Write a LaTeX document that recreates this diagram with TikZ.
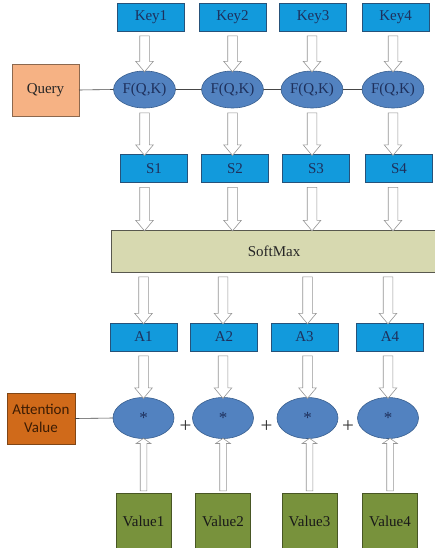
\documentclass[tikz,border=0pt]{standalone}
\usepackage{fontspec}
\setmainfont{Liberation Serif}
\newfontfamily\labelsans{Carlito}
\usetikzlibrary{shapes.geometric,shapes.arrows,calc}

\definecolor{keyblue}{RGB}{18,154,220}
\definecolor{keyedge}{RGB}{38,82,122}
\definecolor{keytext}{RGB}{30,48,92}
\definecolor{ellblue}{RGB}{82,130,192}
\definecolor{elledge}{RGB}{56,94,142}
\definecolor{softfill}{RGB}{215,217,176}
\definecolor{softedge}{RGB}{88,88,78}
\definecolor{valfill}{RGB}{120,146,60}
\definecolor{valedge}{RGB}{72,86,36}
\definecolor{queryfill}{RGB}{246,178,132}
\definecolor{queryedge}{RGB}{140,104,78}
\definecolor{attfill}{RGB}{208,106,26}
\definecolor{attedge}{RGB}{128,70,22}
\definecolor{atttext}{RGB}{60,28,4}
\definecolor{arrowedge}{RGB}{150,150,150}
\definecolor{linkgray}{RGB}{70,70,70}

\newcommand{\labelsize}{\fontsize{15}{17}\selectfont}
\tikzstyle{box}=[draw, inner sep=0, outer sep=0, line width=0.6pt, font=\labelsize]
\tikzstyle{keybox}=[box, fill=keyblue, draw=keyedge, text=keytext, minimum width=67pt, minimum height=28pt]
\tikzstyle{softbox}=[box, fill=softfill, draw=softedge, text=black!85, minimum width=326pt, minimum height=42pt]
\tikzstyle{valbox}=[box, fill=valfill, draw=valedge, text=black!90, minimum width=55pt, minimum height=56pt]
\tikzstyle{querybox}=[box, fill=queryfill, draw=queryedge, text=black!85, minimum width=67pt, minimum height=52pt]
\tikzstyle{attbox}=[box, fill=attfill, draw=attedge, text=atttext, minimum width=68pt, minimum height=51pt,
                    align=center, font=\labelsans\fontsize{15}{18}\selectfont]
\tikzstyle{fqk}=[ellipse, draw=elledge, fill=ellblue, line width=0.6pt, inner sep=0, outer sep=0,
                 minimum width=54pt, minimum height=37pt, text=keytext, font=\labelsize]
\tikzstyle{prod}=[fqk, minimum width=61pt, minimum height=41pt, font=\fontsize{17}{17}\selectfont]
\tikzstyle{plussign}=[inner sep=0, font=\fontsize{21}{21}\selectfont, text=black!80]
\tikzstyle{link}=[draw=linkgray, line width=0.6pt]
\tikzstyle{downarr}=[single arrow, draw=arrowedge, fill=white, line width=0.6pt, inner sep=0, outer sep=0,
                     inner ysep=4.5pt, single arrow head extend=4pt, single arrow tip angle=80, rotate=-90]
\tikzstyle{uparr}=[single arrow, draw=arrowedge, fill=white, line width=0.6pt, inner sep=0, outer sep=0,
                   inner ysep=3pt, single arrow head extend=4pt, single arrow tip angle=110, rotate=90]

% hollow arrow straight down at the x of #1, from #2 to #3
\newcommand{\downto}[3]{%
  \path let \p1=($(#1 |- #2.south)-(#1 |- #3.north)$), \n1={veclen(\x1,\y1)-4pt} in
    (#1 |- #2.south) -- (#1 |- #3.north) node[midway, downarr, minimum height=\n1] {};}
% thin hollow arrow straight up from #1 to #2
\newcommand{\upto}[2]{%
  \path let \p1=($(#1.north)-(#1.north |- #2.south)$), \n1={veclen(\x1,\y1)-2pt} in
    (#1.north) -- (#1.north |- #2.south) node[midway, uparr, minimum height=\n1] {};}

\begin{document}
\begin{tikzpicture}[x=1pt, y=-1pt]
  \useasboundingbox[fill=white] (0,0) rectangle (435,548);

  % keys and scores
  \node[querybox] (Q) at (45.5,90) {Query};
  \node[keybox] (K1) at (151,17) {Key1};
  \node[keybox] (K2) at (232.5,17) {Key2};
  \node[keybox] (K3) at (313,17) {Key3};
  \node[keybox] (K4) at (395.5,17) {Key4};
  \node[fqk] (F1) at (144.5,89.5) {F(Q,K)};
  \node[fqk] (F2) at (232.5,89.5) {F(Q,K)};
  \node[fqk] (F3) at (312,89.5) {F(Q,K)};
  \node[fqk] (F4) at (393,89.5) {F(Q,K)};
  \node[keybox] (S1) at (154,168.5) {S1};
  \node[keybox] (S2) at (235,168.5) {S2};
  \node[keybox] (S3) at (316,168.5) {S3};
  \node[keybox] (S4) at (399,168.5) {S4};
  \node[softbox] (SM) at (274,251) {SoftMax};

  % weights and values
  \node[keybox] (A1) at (143.5,337) {A1};
  \node[keybox] (A2) at (224,337) {A2};
  \node[keybox] (A3) at (304.5,337) {A3};
  \node[keybox] (A4) at (390,337) {A4};
  \node[attbox] (AV) at (41,418.5) {Attention\\Value};
  \node[prod] (P1) at (143.5,418) {*};
  \node[prod] (P2) at (223,418) {*};
  \node[prod] (P3) at (307.5,418) {*};
  \node[prod] (P4) at (388,418) {*};
  \node[plussign] (plus1) at (185.5,427) {+};
  \node[plussign] (plus2) at (266.5,427) {+};
  \node[plussign] (plus3) at (348,427) {+};
  \node[valbox] (V1) at (143.5,521) {Value1};
  \node[valbox] (V2) at (223,521) {Value2};
  \node[valbox] (V3) at (309.5,521) {Value3};
  \node[valbox] (V4) at (390,521) {Value4};

  \draw[link] (Q.east) -- (F1.west) (F1.east) -- (F2.west) (F2.east) -- (F3.west) (F3.east) -- (F4.west);
  \draw[link] (AV.east) -- (P1.west);

  \foreach \i in {1,...,4} {
    \downto{F\i}{K\i}{F\i}
    \downto{F\i}{F\i}{S\i}
    \downto{F\i}{S\i}{SM}
    \downto{P\i}{SM}{A\i}
    \downto{P\i}{A\i}{P\i}
    \upto{V\i}{P\i}
  }
\end{tikzpicture}
\end{document}
